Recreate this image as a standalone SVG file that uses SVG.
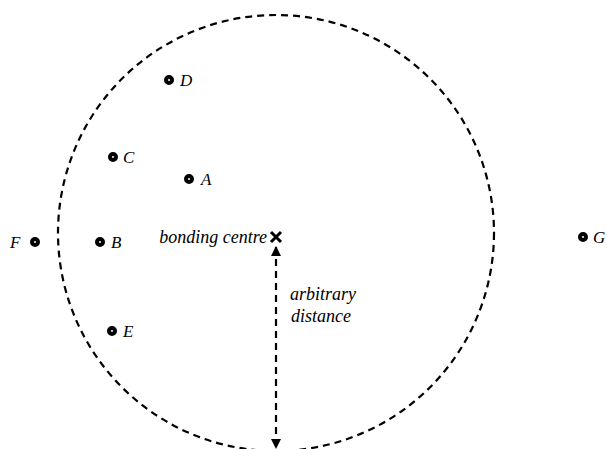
<svg xmlns="http://www.w3.org/2000/svg" width="607" height="449" viewBox="0 0 607 449">
<style>
.dot{fill:#fff;stroke:#000;stroke-width:4}
.lbl{font-family:"Liberation Serif",serif;font-style:italic;font-size:17px;fill:#000}
.txt{font-family:"Liberation Serif",serif;font-style:italic;font-size:18px;fill:#000}
.dash{fill:none;stroke:#000;stroke-width:2.2;stroke-dasharray:7 5}
</style>
<defs>
<marker id="ah" viewBox="0 0 10 10" refX="9" refY="5" markerWidth="12" markerHeight="10" markerUnits="userSpaceOnUse" orient="auto-start-reverse">
<path d="M0,0 L10,5 L0,10 z" fill="#000"/>
</marker>
</defs>
<g id="boundary"><circle class="dash" cx="276" cy="233" r="218"/></g>
<g id="connectors">
<line class="dash" x1="276" y1="247" x2="276" y2="448" marker-start="url(#ah)" marker-end="url(#ah)"/>
</g>
<g id="centre">
<path d="M271,232 L281,242 M281,232 L271,242" stroke="#000" stroke-width="3"/>
<text class="txt" x="267" y="243" text-anchor="end">bonding centre</text>
</g>
<g id="distance-label">
<text class="txt" x="323" y="300" text-anchor="middle">arbitrary</text>
<text class="txt" x="321" y="322" text-anchor="middle">distance</text>
</g>
<g id="A"><circle class="dot" cx="189" cy="179" r="3"/><text class="lbl" x="201" y="185">A</text></g>
<g id="B"><circle class="dot" cx="100" cy="242" r="3"/><text class="lbl" x="111" y="248">B</text></g>
<g id="C"><circle class="dot" cx="113" cy="157" r="3"/><text class="lbl" x="123" y="163">C</text></g>
<g id="D"><circle class="dot" cx="169" cy="80" r="3"/><text class="lbl" x="180" y="86">D</text></g>
<g id="E"><circle class="dot" cx="112" cy="331" r="3"/><text class="lbl" x="123" y="337">E</text></g>
<g id="F"><circle class="dot" cx="35" cy="242" r="3"/><text class="lbl" x="10" y="248">F</text></g>
<g id="G"><circle class="dot" cx="583" cy="237" r="3"/><text class="lbl" x="593" y="243">G</text></g>
</svg>
